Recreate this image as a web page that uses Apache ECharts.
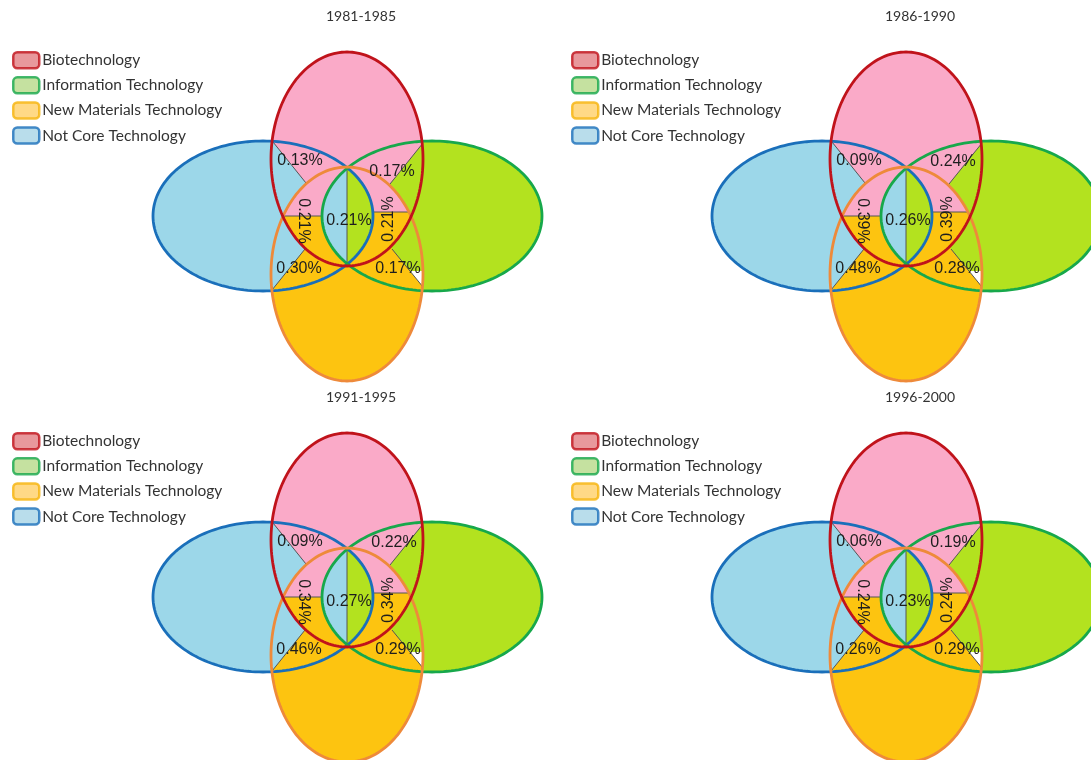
<!DOCTYPE html>
<html><head><meta charset="utf-8">
<script src="https://cdn.jsdelivr.net/npm/echarts@6/dist/echarts.min.js"></script>
<style>html,body{margin:0;padding:0;background:#fff}#c{width:1091px;height:760px}</style>
</head><body><div id="c"></div>
<script>
// ---------- DATA ----------
const periods = ['1981-1985', '1986-1990', '1991-1995', '1996-2000'];
const setNames = ['Biotechnology', 'Information Technology', 'New Materials Technology', 'Not Core Technology'];
// overlap regions, in this order:
const overlapRegions = ['Bio & NotCore', 'Bio & IT', 'NewMat & NotCore', 'NewMat & IT',
                        'Bio & NewMat & NotCore', 'Bio & NewMat & IT', 'All four'];
const share1981_1985 = [0.13, 0.17, 0.30, 0.17, 0.21, 0.21, 0.21];
const share1986_1990 = [0.09, 0.24, 0.48, 0.28, 0.39, 0.39, 0.26];
const share1991_1995 = [0.09, 0.22, 0.46, 0.29, 0.34, 0.34, 0.27];
const share1996_2000 = [0.06, 0.19, 0.26, 0.29, 0.24, 0.24, 0.23];
const shares = [share1981_1985, share1986_1990, share1991_1995, share1996_2000];

// ---------- LAYOUT (diagram units, y downward) ----------
const ELL = {
  bio: {cx: 0, cy: -57, rx: 76, ry: 107},
  it:  {cx: 85, cy: 0, rx: 110, ry: 75},
  mat: {cx: 0, cy: 58, rx: 76, ry: 107},
  nc:  {cx: -84, cy: 0, rx: 110, ry: 75}
};
const LINES = {
  rb: [[-74, -74], [-41, -33]],
  rg: [[76, -73], [43, -32]],
  ob: [[-75, 74], [-42, 33]],
  og: [[45, 33], [76, 71]],
  hl: [[-64, 0], [-25, 0]],
  hr: [[26, -4], [63, -4]],
  vc: [[0, -48], [0, 48]]
};
const LABEL_POS = [[-47, -55, 0], [47, -54, 0], [-48, 53, 0], [51, 53, 0], [-44, 5, -1], [42, 3, 1], [2, 5, 0]];
const LABEL_NUDGE = {0: {1: [45, -44]}};
const FILL = {bio: '#faaac8', it: '#b3e21f', mat: '#fdc410', nc: '#9cd7e9'};
const STROKE = {bio: '#c0131b', it: '#17a84b', mat: '#ee8a3a', nc: '#1a6fba'};
const LEGEND_STYLE = [
  {color: '#e27e83', borderColor: '#c0131b'},
  {color: '#b6da88', borderColor: '#17a84b'},
  {color: '#ffd068', borderColor: '#f6b40c'},
  {color: '#a8d4e6', borderColor: '#1a6fba'}
];

// ---------- geometry helpers ----------
function ellipsePoly(e, n) {
  n = n || 180;
  const pts = [];
  for (let i = 0; i < n; i++) {
    const t = 2 * Math.PI * i / n;
    pts.push([e.cx + e.rx * Math.cos(t), e.cy + e.ry * Math.sin(t)]);
  }
  return pts;
}
function cr(a, b, p) { return (b[0] - a[0]) * (p[1] - a[1]) - (b[1] - a[1]) * (p[0] - a[0]); }
function clipHalf(poly, a, b, ref) {
  const s = Math.sign(cr(a, b, ref));
  const out = [];
  const n = poly.length;
  for (let i = 0; i < n; i++) {
    const cur = poly[i], prev = poly[(i + n - 1) % n];
    const cc = cr(a, b, cur) * s, pc = cr(a, b, prev) * s;
    const cin = cc >= 0, pin = pc >= 0;
    if (cin !== pin) {
      const t = pc / (pc - cc);
      out.push([prev[0] + t * (cur[0] - prev[0]), prev[1] + t * (cur[1] - prev[1])]);
    }
    if (cin) out.push(cur);
  }
  return out;
}
function clipEllipse(poly, e) {
  const cp = ellipsePoly(e, 180);
  const c = [e.cx, e.cy];
  for (let i = 0; i < cp.length && poly.length; i++) {
    poly = clipHalf(poly, cp[i], cp[(i + 1) % cp.length], c);
  }
  return poly;
}
const P = {bio: ellipsePoly(ELL.bio), it: ellipsePoly(ELL.it), mat: ellipsePoly(ELL.mat), nc: ellipsePoly(ELL.nc)};
const BLUE_SIDE = [-200, 0], GREEN_SIDE = [200, 0];
// painter's order pieces
const PIECES = [];
PIECES.push([P.nc, FILL.nc], [P.it, FILL.it], [P.bio, FILL.bio]);
PIECES.push([clipHalf(clipEllipse(P.bio, ELL.nc), LINES.rb[0], LINES.rb[1], BLUE_SIDE), FILL.nc]);
PIECES.push([clipHalf(clipEllipse(P.bio, ELL.it), LINES.rg[0], LINES.rg[1], GREEN_SIDE), FILL.it]);
PIECES.push([P.mat, FILL.mat]);
PIECES.push([clipHalf(clipEllipse(P.mat, ELL.nc), LINES.ob[0], LINES.ob[1], BLUE_SIDE), FILL.nc]);
const ogGreen = clipHalf(clipEllipse(P.mat, ELL.it), LINES.og[0], LINES.og[1], GREEN_SIDE);
PIECES.push([ogGreen, FILL.it]);
PIECES.push([clipHalf(ogGreen, [-300, 55], [300, 55], [0, 300]), '#ffffff']);
const robL = clipEllipse(clipEllipse(P.bio, ELL.mat), ELL.nc);
PIECES.push([clipHalf(robL, [-300, 0], [300, 0], [0, -300]), FILL.bio]);
PIECES.push([clipHalf(robL, [-300, 0], [300, 0], [0, 300]), FILL.mat]);
const rogR = clipEllipse(clipEllipse(P.bio, ELL.mat), ELL.it);
PIECES.push([clipHalf(rogR, [-300, -4], [300, -4], [0, -300]), FILL.bio]);
PIECES.push([clipHalf(rogR, [-300, -4], [300, -4], [0, 300]), FILL.mat]);
const lens = clipEllipse(P.nc, ELL.it);
PIECES.push([clipHalf(lens, [0, -300], [0, 300], [-300, 0]), FILL.nc]);
PIECES.push([clipHalf(lens, [0, -300], [0, 300], [300, 0]), FILL.it]);

// ---------- panels ----------
const panels = periods.map((p, i) => ({cx: 347 + 559 * (i % 2), cy: 216 + 381 * Math.floor(i / 2)}));
const XMIN = -200, XMAX = 185, YMIN = -170, YMAX = 163;

function shapeRenderer(params, api) {
  const m = pt => api.coord(pt);
  const children = [];
  PIECES.forEach(([poly, fill]) => {
    if (poly.length > 2) children.push({type: 'polygon', shape: {points: poly.map(m)}, style: {fill: fill, stroke: null}});
  });
  Object.keys(LINES).forEach(k => {
    children.push({type: 'polyline', shape: {points: LINES[k].map(m)}, style: {stroke: '#555', lineWidth: 1, fill: null}});
  });
  ['nc', 'it', 'mat', 'bio'].forEach(k => {
    children.push({type: 'polygon', shape: {points: P[k].map(m)}, style: {fill: null, stroke: STROKE[k], lineWidth: 2.8}});
  });
  return {type: 'group', children: children};
}
function labelRenderer(panelIdx) {
  return function (params, api) {
    const k = api.value(0), v = api.value(1);
    const pos = LABEL_POS[k];
    const nudge = LABEL_NUDGE[panelIdx] && LABEL_NUDGE[panelIdx][k];
    const xy = api.coord(nudge ? nudge : [pos[0], pos[1]]);
    return {
      type: 'text', x: xy[0], y: xy[1], rotation: pos[2] * Math.PI / 2,
      style: {text: v.toFixed(2) + '%', fill: '#1e1e1e', fontSize: 16, fontFamily: '"Liberation Sans", Arial, sans-serif',
              align: 'center', verticalAlign: 'middle'}
    };
  };
}

const grid = [], xAxis = [], yAxis = [], series = [], title = [], legend = [];
panels.forEach((pn, i) => {
  grid.push({left: pn.cx + XMIN, top: pn.cy + YMIN, width: XMAX - XMIN, height: YMAX - YMIN});
  xAxis.push({type: 'value', gridIndex: i, min: XMIN, max: XMAX, show: false});
  yAxis.push({type: 'value', gridIndex: i, min: YMIN, max: YMAX, inverse: true, show: false});
  series.push({type: 'custom', name: 'venn' + i, xAxisIndex: i, yAxisIndex: i, data: [[0, 0]],
               renderItem: shapeRenderer, silent: true, clip: false, z: 1});
  series.push({type: 'custom', name: 'labels' + i, xAxisIndex: i, yAxisIndex: i,
               data: shares[i].map((v, k) => [k, v]), renderItem: labelRenderer(i), silent: true, clip: false, z: 3});
  title.push({text: periods[i], left: pn.cx + 14, top: pn.cy - 207, textAlign: 'center', padding: 0,
              textStyle: {fontFamily: 'Lato, sans-serif', fontSize: 14, fontWeight: 'normal', color: '#333'}});
  legend.push({
    orient: 'vertical', left: 12 + 559 * (i % 2), top: 51 + 381 * Math.floor(i / 2), padding: 0,
    itemWidth: 26, itemHeight: 16, itemGap: 6.6, icon: 'roundRect', selectedMode: false,
    textStyle: {fontFamily: 'Lato, sans-serif', fontSize: 15.5, lineHeight: 16, color: '#333', padding: [0, 0, 0, -2]},
    data: setNames.map((n, k) => ({name: n, itemStyle: Object.assign({borderWidth: 2.5}, LEGEND_STYLE[k])}))
  });
});
setNames.forEach((n, k) => {
  series.push({type: 'scatter', name: n, xAxisIndex: 0, yAxisIndex: 0, data: [], itemStyle: LEGEND_STYLE[k]});
});

const chart = echarts.init(document.getElementById('c'), null, {renderer: 'canvas'});
chart.setOption({backgroundColor: '#fff', animation: false, grid, xAxis, yAxis, title, legend, series});
</script>
</body></html>
